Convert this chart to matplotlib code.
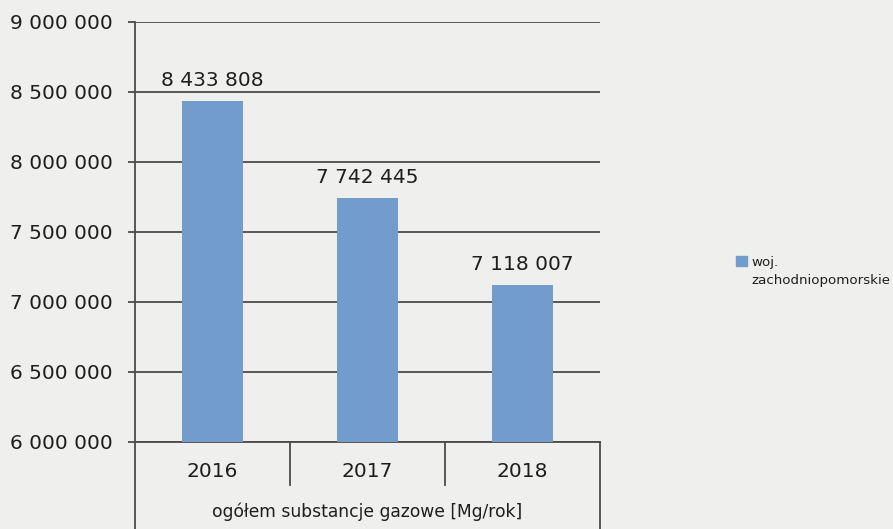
import matplotlib
matplotlib.use('Agg')
import matplotlib.pyplot as plt
from matplotlib.patches import Patch

years = ['2016', '2017', '2018']
values = [8433808, 7742445, 7118007]
group_label = 'ogółem substancje gazowe [Mg/rok]'
series_name = 'woj.\nzachodniopomorskie'
yticks = [6000000, 6500000, 7000000, 7500000, 8000000, 8500000, 9000000]

def fmt(v):
    return f"{v:,}".replace(",", " ")

plt.rcParams['font.family'] = ['DejaVu Sans']
plt.rcParams['font.size'] = 14.5

bg = '#efefed'
bar_color = '#729ccc'
line_color = '#4a4a4a'
txt = '#1e1e1e'

fig = plt.figure(figsize=(8.93, 5.29), dpi=100, facecolor=bg)
ax = fig.add_axes([0.1512, 0.1645, 0.5207, 0.7940])
ax.set_facecolor(bg)

x = list(range(len(years)))
ax.bar(x, values, width=0.39, color=bar_color, zorder=3, label=series_name)

ax.set_ylim(6000000, 9000000)
ax.set_xlim(-0.5, 2.5)
ax.set_yticks(yticks)
ax.set_yticklabels([fmt(v) for v in yticks])
ax.yaxis.grid(True, color=line_color, lw=1.3, zorder=1)
ax.tick_params(axis='y', length=5, width=1.3, color=line_color, pad=11, labelcolor=txt)
ax.set_xticks([])
for s in ['top', 'right']:
    ax.spines[s].set_visible(False)
for s in ['left', 'bottom']:
    ax.spines[s].set_color(line_color)
    ax.spines[s].set_linewidth(1.3)

for xi, v in zip(x, values):
    ax.annotate(fmt(v), (xi, v), xytext=(0, 8), textcoords='offset points',
                ha='center', va='bottom', color=txt)

# category table under the axis
tr = ax.get_xaxis_transform()
for xi, yr in zip(x, years):
    ax.text(xi, -0.071, yr, transform=tr, ha='center', va='center', color=txt)
for xs in [0.5, 1.5]:
    ax.plot([xs, xs], [0, -0.102], transform=tr, color=line_color, lw=1.3, clip_on=False)
ax.plot([-0.5, -0.5], [0, -0.25], transform=tr, color=line_color, lw=1.3, clip_on=False)
ax.plot([2.5, 2.5], [0, -0.25], transform=tr, color=line_color, lw=1.3, clip_on=False)
ax.text(1, -0.167, group_label, transform=tr, ha='center', va='center',
        color=txt, fontsize=12.3)

leg = ax.legend(handles=[Patch(color=bar_color, label=series_name)],
                loc='upper left', bbox_to_anchor=(1.293, 0.443), frameon=False,
                handlelength=0.8, handleheight=0.8, handletextpad=0.35,
                labelcolor=txt, fontsize=9.6, borderpad=0, borderaxespad=0)
for t in leg.get_texts():
    t.set_linespacing(1.5)
# put the square next to the first line of the label
for col in leg._legend_handle_box.get_children():
    for item in col.get_children():
        item.align = 'top'

fig.savefig('out.png', dpi=100, facecolor=bg)
